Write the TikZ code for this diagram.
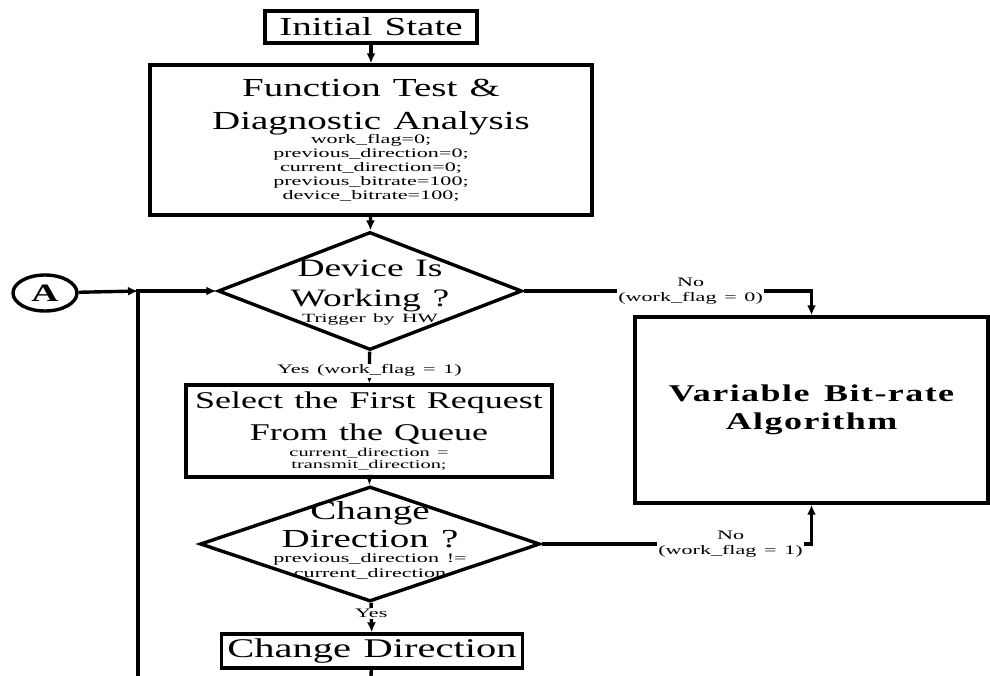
\documentclass[tikz,border=0pt]{standalone}
\usepackage{fontspec}
\setmainfont[FakeStretch=1.5,WordSpace=1.25]{Liberation Serif}
\newfontfamily\petitfont[FakeStretch=1.7,WordSpace=1.4]{Liberation Serif}
\newfontfamily\vbrfont[FakeStretch=1.5,LetterSpace=6,WordSpace=1.4]{Liberation Serif}
\usepackage{tikz}
\usetikzlibrary{shapes.geometric, arrows.meta, positioning}

\newcommand{\fsz}[2]{\fontsize{#1}{#2}\selectfont\lineskiplimit=-50pt\lineskip=0pt%
  \spaceskip=0pt\xspaceskip=0pt\leftskip=0pt plus 1fil\rightskip=0pt plus 1fil\parfillskip=0pt}

\begin{document}
\begin{tikzpicture}[x=1pt, y=-1pt]
% Styles
    \tikzstyle{block} = [rectangle, draw, line width=3.4pt, align=center, inner sep=0pt]
    \tikzstyle{decision} = [diamond, draw, line width=3.4pt, inner sep=0pt]
    \tikzstyle{inside} = [align=center, inner sep=0pt]
    \tikzstyle{cond} = [fill=white, align=center, inner sep=1pt, font=\petitfont\fsz{13}{15}]
    \tikzstyle{line} = [draw, line width=3.4pt, -{Latex[length=10pt,width=9pt]}]
    \tikzstyle{wire} = [draw, line width=3.4pt]

    \useasboundingbox (0,0) rectangle (990,676);

    % Colonne principale
    \node [block, minimum width=212pt, minimum height=32pt] (init) at (371,27) {\fsz{26}{30}Initial State};
    \node [block, minimum width=442pt, minimum height=150pt, text width=430pt] (func) at (371,140)
        {\fsz{26}{33}Function Test \&\\Diagnostic Analysis\par
         \petitfont\fsz{13}{14}work\_flag=0;\\previous\_direction=0;\\current\_direction=0;\\previous\_bitrate=100;\\device\_bitrate=100;\par};
    \node [decision, minimum width=304pt, minimum height=118pt] (dev) at (370,291) {};
    \node [inside, text width=300pt] (devtxt) at (370,293)
        {\fsz{25}{30}Device Is\\Working ?\par\petitfont\fsz{12.6}{16}Trigger by HW\par};
    \node [block, minimum width=366pt, minimum height=92pt, text width=360pt] (sel) at (369,431)
        {\fsz{24}{32}Select the First Request\\From the Queue\par
         \petitfont\fsz{12}{16}current\_direction =\par\fsz{12}{12}transmit\_direction;\par};
    \node [decision, minimum width=340pt, minimum height=115pt] (chd) at (370,544) {};
    \node [inside, text width=320pt] (chdtxt) at (370,540)
        {\fsz{26}{28}Change\\Direction ?\par\petitfont\fsz{13}{15}previous\_direction !=\\current\_direction\par};
    \node [block, minimum width=301pt, minimum height=34pt] (chg) at (372,651) {\fsz{27}{30}Change Direction};

    % Branche de droite et connecteur A
    \node [block, minimum width=353pt, minimum height=186pt, text width=340pt] (vbr) at (811.5,410)
        {\vbrfont\bfseries\fsz{24}{28}Variable Bit-rate\\Algorithm\par};
    \node [ellipse, draw, line width=3.4pt, minimum width=64pt, minimum height=36pt, inner sep=0pt] (A) at (45,293)
        {\bfseries\fsz{25}{25}A};
    \coordinate (jA) at (138,291);
    \coordinate (lb) at (138,676);
    \coordinate (cb) at (371,676);

    % Connexions
    \path [line] (init) -- (func);
    \path [line] (func) -- (dev);
    \path [line] (dev) -- node[cond, pos=0.6] {Yes (work\_flag = 1)} (sel);
    \path [line] (sel) -- (chd);
    \path [line] (chd) -- node[cond, pos=0.37] {Yes} (chg);
    \path [wire] (chg) -- (cb);
    \path [line] (A) -- (jA);
    \path [line] (lb) |- (dev);
    \path [line] (dev) -| node[cond, pos=0.29] {No\\(work\_flag = 0)} (vbr);
    \path [line] (chd) -| node[cond, pos=0.35] {No\\(work\_flag = 1)} (vbr);
\end{tikzpicture}
\end{document}
